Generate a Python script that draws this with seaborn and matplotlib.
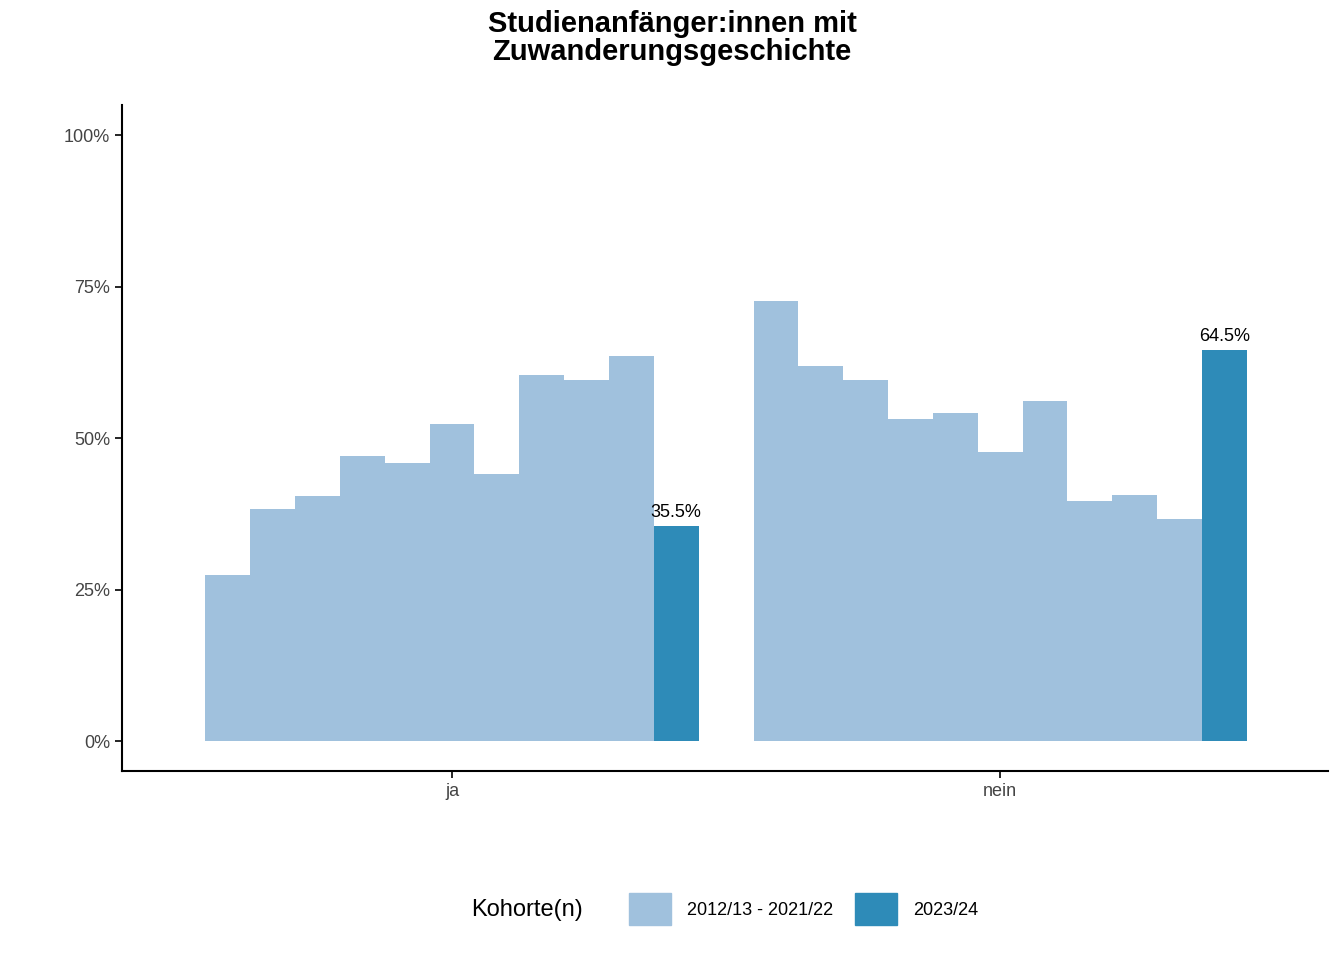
import matplotlib
matplotlib.use("Agg")
import matplotlib.pyplot as plt
import seaborn as sns
import pandas as pd
from matplotlib.patches import Patch
from matplotlib.ticker import FuncFormatter

plt.rcParams["font.family"] = "Liberation Sans"

categories = ["ja", "nein"]
cohorts = ["2012/13", "2013/14", "2014/15", "2015/16", "2016/17", "2017/18",
           "2018/19", "2019/20", "2020/21", "2021/22", "2023/24"]
values_ja = [27.4, 38.3, 40.4, 47.0, 45.9, 52.4, 44.1, 60.4, 59.6, 63.5, 35.5]
values_nein = [72.6, 61.9, 59.6, 53.1, 54.1, 47.7, 56.1, 39.6, 40.6, 36.6, 64.5]
legend_labels = ["2012/13 - 2021/22", "2023/24"]
light, dark = "#a0c1dd", "#2e8bb8"

rows = []
for c, vals in zip(categories, [values_ja, values_nein]):
    for k, v in zip(cohorts, vals):
        rows.append({"cat": c, "cohort": k, "value": v})
df = pd.DataFrame(rows)
palette = {k: (dark if k == "2023/24" else light) for k in cohorts}

fig = plt.figure(figsize=(13.44, 9.6), dpi=100)
ax = fig.add_axes([122/1344, 1-771/960, (1328-122)/1344, (771-105)/960])
sns.barplot(data=df, x="cat", y="value", hue="cohort", hue_order=cohorts,
            palette=palette, width=0.9, dodge=True, ax=ax, legend=False,
            saturation=1, linewidth=0, errorbar=None)
ax.set_xlim(-0.602, 1.598)
ax.set_ylim(-4.95, 105)
ax.set_yticks([0, 25, 50, 75, 100])
ax.yaxis.set_major_formatter(FuncFormatter(lambda v, p: f"{int(v)}%"))
ax.tick_params(labelsize=13, labelcolor="#444444", color="black", length=5, width=1.2)
for s in ["top", "right"]:
    ax.spines[s].set_visible(False)
for s in ["left", "bottom"]:
    ax.spines[s].set_linewidth(1.5)
ax.set_xlabel("")
ax.set_ylabel("")

bw = 0.9 / len(cohorts)
for i, vals in enumerate([values_ja, values_nein]):
    x = i - 0.45 + bw * (len(cohorts) - 0.5)
    ax.text(x, vals[-1] + 0.8, f"{vals[-1]:.1f}%", ha="center", va="bottom", fontsize=13)

fig.suptitle("Studienanfänger:innen mit\nZuwanderungsgeschichte", fontsize=21,
             fontweight="bold", y=0.99, linespacing=1.0)
handles = [Patch(color=light), Patch(color=dark)]
fig.legend(handles, legend_labels, loc="center",
           bbox_to_anchor=(0.598, 0.053), ncol=2, frameon=False, fontsize=13,
           handlelength=2.3, handleheight=2.3, columnspacing=1.2, handletextpad=0.9)
fig.text(0.434, 0.052, "Kohorte(n)", fontsize=17, ha="right", va="center")
fig.savefig("out.png", dpi=100)
